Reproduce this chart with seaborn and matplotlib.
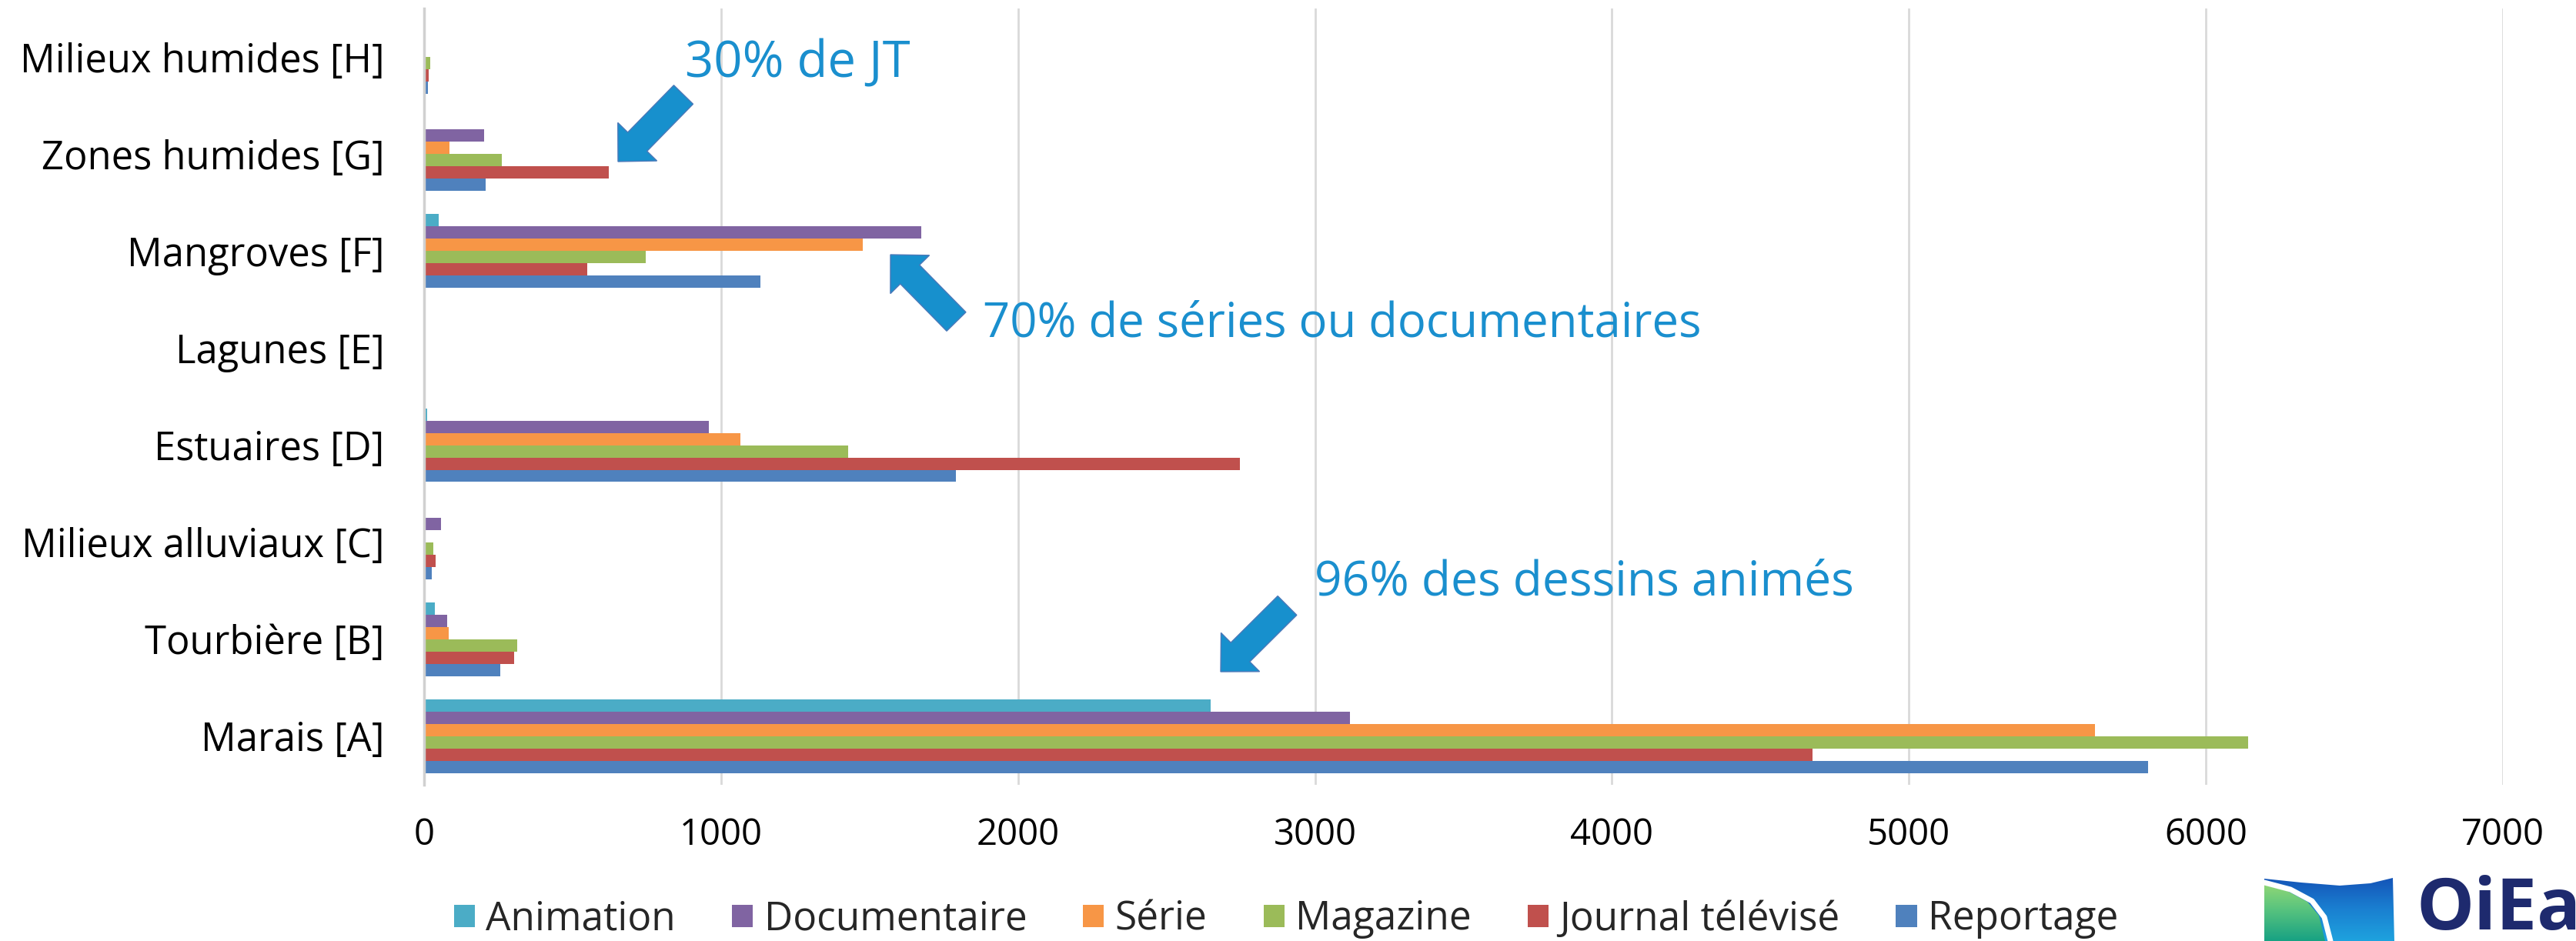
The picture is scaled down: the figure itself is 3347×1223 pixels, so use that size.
import matplotlib
matplotlib.use("Agg")
import matplotlib.pyplot as plt
import matplotlib.patches as mpatches
import matplotlib.colors as mcolors
import numpy as np
import pandas as pd
import seaborn as sns

# ---------------- data ----------------
categories = ["Milieux humides [H]", "Zones humides [G]", "Mangroves [F]", "Lagunes [E]",
              "Estuaires [D]", "Milieux alluviaux [C]", "Tourbière [B]", "Marais [A]"]
series_names = ["Animation", "Documentaire", "Série", "Magazine", "Journal télévisé", "Reportage"]
animation = [0, 2, 48, 0, 11, 0, 35, 2648]
documentaire = [3, 202, 1673, 0, 959, 56, 79, 3119]
serie = [2, 86, 1476, 0, 1065, 3, 84, 5626]
magazine = [20, 263, 747, 0, 1427, 31, 314, 6143]
journal = [15, 621, 549, 5, 2748, 38, 304, 4675]
reportage = [13, 207, 1132, 0, 1790, 26, 256, 5804]
xticks = [0, 1000, 2000, 3000, 4000, 5000, 6000, 7000]
colors = ["#4BACC6", "#8064A2", "#F79646", "#9BBB59", "#C0504D", "#4F81BD"]
notes = ["30% de JT", "70% de séries ou documentaires", "96% des dessins animés"]

values = [animation, documentaire, serie, magazine, journal, reportage]
df = pd.DataFrame([
    {"cat": c, "type": s, "val": v}
    for s, vals in zip(series_names, values)
    for c, v in zip(categories, vals)
])

# ---------------- figure ----------------
W, H = 3348, 1223
DPI = 100
sns.set_theme(style="white")
plt.rcParams["font.family"] = ["Open Sans", "DejaVu Sans"]

fig = plt.figure(figsize=(W / DPI, H / DPI), dpi=DPI)
ax = fig.add_axes([551 / W, 1 - 1020 / H, (3252 - 551) / W, (1020 - 11) / H])

sns.barplot(data=df, y="cat", x="val", hue="type", order=categories,
            hue_order=series_names, palette=colors, orient="h", width=0.76,
            saturation=1, linewidth=0, ax=ax, legend=True)

ax.set_xlim(0, 7000)
ax.set_xticks(xticks)
ax.set_xticklabels([str(t) for t in xticks])
ax.set_xlabel("")
ax.set_ylabel("")
ax.xaxis.grid(True, color="#D9D9D9", lw=2)
ax.yaxis.grid(False)
ax.set_axisbelow(True)
for sp in ["top", "right", "bottom"]:
    ax.spines[sp].set_visible(False)
ax.spines["left"].set_color("#D0D0D0")
ax.spines["left"].set_linewidth(2.5)
ax.tick_params(axis="x", length=0, pad=30, labelsize=34, labelcolor="black")
ax.tick_params(axis="y", length=0, pad=37, labelsize=36.5, labelcolor="black")

# legend
handles, labels = ax.get_legend_handles_labels()
ax.legend_.remove()
fig.legend(handles, labels, loc="center", bbox_to_anchor=(1671 / W, 1 - 1195 / H),
           ncol=6, frameon=False, fontsize=37, handlelength=0.53, handleheight=0.5,
           handletextpad=0.28, columnspacing=1.42, borderaxespad=0, borderpad=0)

# ---------------- annotations ----------------
def P(x, y):
    return (x / W, 1 - y / H)

def arrow(tail, tip, w=35, hw=71, hl=36):
    T = np.array(tail, float)
    Hh = np.array(tip, float)
    u = (Hh - T) / np.linalg.norm(Hh - T)
    n = np.array([-u[1], u[0]])
    B = Hh - u * hl
    pts = [T + n * w / 2, B + n * w / 2, B + n * hw / 2, Hh,
           B - n * hw / 2, B - n * w / 2, T - n * w / 2]
    poly = mpatches.Polygon([P(*p) for p in pts], closed=True, transform=fig.transFigure,
                            facecolor="#1790CD", edgecolor="#4A78B8", lw=1)
    fig.add_artist(poly)

acol = "#1A8FCE"
fig.text(*P(890, 100), notes[0], color=acol, fontsize=47, va="baseline", ha="left")
fig.text(*P(1277, 437), notes[1], color=acol, fontsize=44.4, va="baseline", ha="left")
fig.text(*P(1708, 773), notes[2], color=acol, fontsize=44.8, va="baseline", ha="left")
arrow((888, 123), (803, 210))
arrow((1242.5, 418), (1157, 331))
arrow((1672.5, 787), (1586, 873))

# ---------------- logo (partial, cut at edge like the source) ----------------
x0, x1, y0, y1 = 2938, 3116, 1136, 1223
lax = fig.add_axes([x0 / W, 1 - y1 / H, (x1 - x0) / W, (y1 - y0) / H])
lax.set_xlim(x0, x1)
lax.set_ylim(y1, y0)
lax.axis("off")
grad = np.linspace(0, 1, 64).reshape(-1, 1) * np.ones((1, 8))
blue_cmap = mcolors.LinearSegmentedColormap.from_list("b", ["#1450B5", "#1A7ED0", "#1EA2DE"])
green_cmap = mcolors.LinearSegmentedColormap.from_list("g", ["#A6DE72", "#5CC57E", "#18A283"])
blue_pts = [(2942, 1142), (2990, 1147), (3040, 1151), (3080, 1148), (3109, 1141),
            (3111, 1223), (2942, 1223)]
green_pts = [(2942, 1150), (2972, 1158), (2998, 1172), (3013, 1190), (3021, 1223), (2942, 1223)]
for pts, cm in [(blue_pts, blue_cmap), (green_pts, green_cmap)]:
    im = lax.imshow(grad, cmap=cm, extent=(x0, x1, y1, y0), aspect="auto",
                    interpolation="bilinear")
    clip = mpatches.Polygon(pts, closed=True, transform=lax.transData)
    im.set_clip_path(clip)
curve = [(2942, 1147), (2976, 1156), (3004, 1171), (3020, 1192), (3028, 1223)]
lax.plot([p[0] for p in curve], [p[1] for p in curve], color="white", lw=5)
fig.text(*P(3140, 1208), "OiEau", color="#1E2A6E", fontsize=68, fontweight="bold",
         va="baseline", ha="left")

fig.savefig("out.png", dpi=DPI)
